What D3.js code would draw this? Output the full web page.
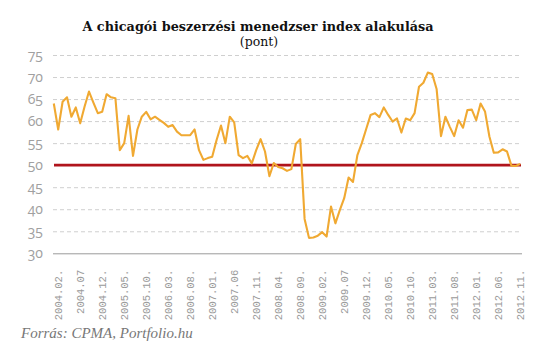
<!DOCTYPE html>
<html>
<head>
<meta charset="utf-8">
<script src="https://cdn.jsdelivr.net/npm/d3@7"></script>
<style>
  html, body { margin: 0; padding: 0; background: #fff; }
  svg { display: block; }
</style>
</head>
<body>
<div id="chart"></div>
<script>
// ---- data ----
const title = "A chicagói beszerzési menedzser index alakulása";
const subtitle = "(pont)";
const source = "Forrás: CPMA, Portfolio.hu";

// monthly categories 2004.01 .. 2012.11
const startYear = 2004, startMonth = 1, monthCount = 107;
const months = [];
for (let k = 0; k < monthCount; k++) {
  const m = startMonth - 1 + k;
  months.push(`${startYear + Math.floor(m / 12)}.${String(m % 12 + 1).padStart(2, "0")}`);
}

const pmiValues = [
  64.0, 58.1, 64.4, 65.4, 61.0, 63.1, 59.5, 63.3, 66.7, 64.2, 61.8, 62.1,
  66.1, 65.4, 65.2, 53.4, 55.0, 61.2, 52.1, 58.1, 61.0, 62.1, 60.4, 61.0,
  60.3, 59.6, 58.7, 59.1, 57.6, 56.8, 56.8, 56.8, 58.1, 53.4, 51.2, 51.6,
  51.9, 55.7, 59.0, 55.0, 61.0, 59.7, 52.3, 51.6, 52.1, 50.4, 53.4, 55.9,
  53.1, 47.5, 50.5, 49.6, 49.3, 48.7, 49.1, 54.8, 55.9, 37.8, 33.5, 33.6,
  34.0, 34.8, 33.8, 40.6, 36.8, 39.8, 42.5, 47.2, 46.2, 52.3, 55.0, 58.2,
  61.4, 61.8, 60.9, 63.1, 61.4, 59.9, 60.6, 57.4, 60.6, 60.2, 61.8, 67.8,
  68.7, 71.0, 70.7, 67.3, 56.6, 61.0, 58.7, 56.6, 60.2, 58.5, 62.5, 62.6,
  60.2, 64.0, 62.2, 56.5, 52.8, 52.9, 53.6, 53.1, 49.9, 49.8, 50.3
];

const tickMonths = ["2004.02","2004.07","2004.12","2005.05","2005.10","2006.03","2006.08",
  "2007.01","2007.06","2007.11","2008.04","2008.09","2009.02","2009.07","2009.12",
  "2010.05","2010.10","2011.03","2011.08","2012.01","2012.06","2012.11"];
const tickLabels = ["2004.02.","2004.07","2004.12.","2005.05.","2005.10.","2006.03.","2006.08.",
  "2007.01.","2007.06","2007.11.","2008.04.","2008.09.","2009.02.","2009.07","2009.12.",
  "2010.05.","2010.10.","2011.03.","2011.08.","2012.01.","2012.06.","2012.11."];

const yTicks = [30, 35, 40, 45, 50, 55, 60, 65, 70, 75];
const refLevel = 50;

// ---- chart ----
const W = 535, H = 357;
const svg = d3.select("#chart").append("svg").attr("width", W).attr("height", H);
svg.append("rect").attr("width", W).attr("height", H).attr("fill", "#fff");

const x = d3.scalePoint().domain(months).range([53.8, 520.2]);
const y = d3.scaleLinear().domain([30, 75]).range([253.3, 55]);

// title
svg.append("text").attr("x", 258).attr("y", 31).attr("text-anchor", "middle")
  .attr("font-family", "'DejaVu Serif', serif").attr("font-weight", "bold")
  .attr("font-size", 12.8).attr("fill", "#111").text(title);
svg.append("text").attr("x", 259).attr("y", 45.5).attr("text-anchor", "middle")
  .attr("font-family", "'DejaVu Serif', serif")
  .attr("font-size", 12.5).attr("fill", "#111").text(subtitle);

// gridlines
const grid = svg.append("g").attr("transform", "translate(53,0)")
  .call(d3.axisLeft(y).tickValues(yTicks.filter(v => v !== 30 && v !== refLevel)).tickSize(-466).tickFormat(""));
grid.select(".domain").remove();
grid.selectAll(".tick line").attr("stroke", "#cfcfcf").attr("stroke-dasharray", "4,3").attr("stroke-width", 1);

// y axis labels
const yAxis = svg.append("g").attr("transform", "translate(43,0)")
  .call(d3.axisLeft(y).tickValues(yTicks).tickSize(0).tickPadding(0));
yAxis.select(".domain").remove();
yAxis.selectAll("text")
  .attr("font-family", "'Open Sans', 'Noto Sans', sans-serif")
  .attr("font-size", 14).attr("fill", "#a0a0a0")
  .attr("dy", "0.3em")
  .style("font-variant-numeric", "oldstyle-nums")
  .style("font-feature-settings", "'onum' 1");

// base line at 30 + category labels
const xAxis = svg.append("g").attr("transform", `translate(0,${y(30)})`)
  .call(d3.axisBottom(x).tickValues(tickMonths).tickSize(0)
    .tickFormat(d => tickLabels[tickMonths.indexOf(d)]));
xAxis.select(".domain").attr("d", "M53,0.5H522").attr("stroke", "#9a9a9a").attr("stroke-width", 1);
xAxis.selectAll("text")
  .attr("transform", "rotate(-90)")
  .attr("text-anchor", "end")
  .attr("x", -16.5).attr("y", 0).attr("dy", "0.33em")
  .attr("font-family", "'Liberation Mono', monospace")
  .attr("font-size", 10.5).attr("fill", "#9a9a9a");

// reference line at 50
svg.append("line")
  .attr("x1", 54).attr("x2", 521)
  .attr("y1", y(refLevel)).attr("y2", y(refLevel))
  .attr("stroke", "#b0141c").attr("stroke-width", 2.6);

// series line
const line = d3.line().x((d, i) => x(months[i])).y(d => y(d));
svg.append("path").datum(pmiValues)
  .attr("d", line).attr("fill", "none")
  .attr("stroke", "#f0a932").attr("stroke-width", 2.1)
  .attr("stroke-linejoin", "round");

// source
svg.append("text").attr("x", 21).attr("y", 337.5)
  .attr("font-family", "'Liberation Serif', serif").attr("font-style", "italic")
  .attr("font-size", 15).attr("fill", "#777").text(source);
</script>
</body>
</html>
